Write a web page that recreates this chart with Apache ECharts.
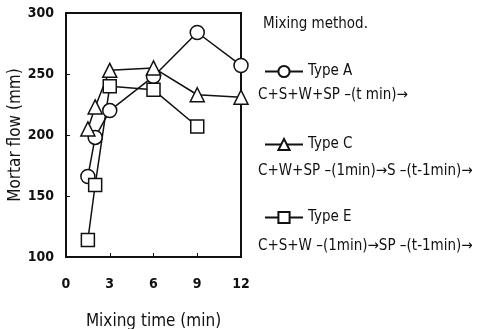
<!DOCTYPE html>
<html>
<head>
<meta charset="utf-8">
<script src="https://cdn.jsdelivr.net/npm/echarts@6/dist/echarts.min.js"></script>
<style>
  html, body { margin: 0; padding: 0; background: #fff; }
  #chart { width: 484px; height: 329px; }
</style>
</head>
<body>
<div id="chart"></div>
<script>
// values
var typeA = [[1.5, 166], [2, 198], [3, 220], [6, 248], [9, 284], [12, 257]];
var typeC = [[1.5, 205], [2, 223], [3, 253], [6, 255], [9, 233], [12, 231]];
var typeE = [[1.5, 114], [2, 159], [3, 240], [6, 237], [9, 207]];
var seriesNames = ['Type A', 'Type C', 'Type E'];
var methods = [
    'C+S+W+SP –(t min)→',
    'C+W+SP –(1min)→S –(t-1min)→',
    'C+S+W –(1min)→SP –(t-1min)→'
];

var font = '"DejaVu Sans Condensed", "Liberation Sans Narrow", "DejaVu Sans", sans-serif';

function lineSeries(name, data, symbol, size) {
    return {
        name: name,
        type: 'line',
        data: data,
        symbol: symbol,
        symbolSize: size,
        lineStyle: { color: '#111', width: 1.5 },
        itemStyle: { color: '#fff', borderColor: '#111', borderWidth: 1.5 },
        z: 3
    };
}

function drawFlow() {
    var myChart = echarts.init(document.getElementById('chart'));

    var option = {
        animation: false,
        textStyle: { fontFamily: font, color: '#111' },
        grid: {
            left: 66, right: 243, top: 13, bottom: 72,
            outerBoundsMode: 'none',
            show: true, borderColor: '#111', borderWidth: 2
        },
        xAxis: {
            type: 'value',
            min: 0, max: 12, interval: 3,
            name: 'Mixing time (min)',
            nameLocation: 'middle',
            nameGap: 56,
            nameTextStyle: { fontSize: 17, color: '#111', fontFamily: font },
            axisLine: { show: false },
            axisTick: { show: true, inside: true, length: 4, lineStyle: { color: '#111' } },
            splitLine: { show: false },
            axisLabel: { margin: 20, fontSize: 14, fontWeight: 'bold', color: '#111', fontFamily: font }
        },
        yAxis: {
            type: 'value',
            min: 100, max: 300, interval: 50,
            name: 'Mortar flow (mm)',
            nameLocation: 'middle',
            nameGap: 41,
            nameTextStyle: { fontSize: 17, color: '#111', fontFamily: font },
            axisLine: { show: false },
            axisTick: { show: true, inside: true, length: 4, lineStyle: { color: '#111' } },
            splitLine: { show: false },
            axisLabel: { margin: 12, fontSize: 14, fontWeight: 'bold', color: '#111', fontFamily: font }
        },
        legend: {
            orient: 'vertical',
            left: 259,
            top: 59,
            itemWidth: 38,
            itemHeight: 14,
            itemGap: 58,
            data: seriesNames,
            textStyle: { fontSize: 15, color: '#111', fontFamily: font }
        },
        graphic: [
            { type: 'text', left: 263, top: 17, style: { text: 'Mixing method.', font: '15px ' + font, fill: '#111' } },
            { type: 'text', left: 258, top: 88, style: { text: methods[0], font: '15px ' + font, fill: '#111' } },
            { type: 'text', left: 258, top: 164, style: { text: methods[1], font: '15px ' + font, fill: '#111' } },
            { type: 'text', left: 258, top: 239, style: { text: methods[2], font: '15px ' + font, fill: '#111' } }
        ],
        series: [
            lineSeries(seriesNames[0], typeA, 'circle', 14),
            lineSeries(seriesNames[1], typeC, 'triangle', 14),
            lineSeries(seriesNames[2], typeE, 'rect', 13)
        ]
    };

    myChart.setOption(option);
}

drawFlow();
</script>
</body>
</html>
